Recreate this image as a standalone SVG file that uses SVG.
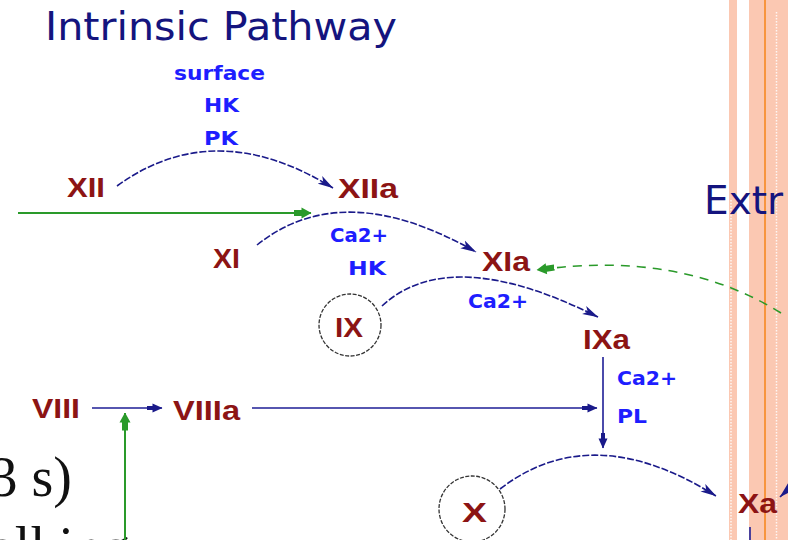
<svg xmlns="http://www.w3.org/2000/svg" width="788" height="540" viewBox="0 0 788 540">
<style>
.ttl{font-family:"DejaVu Sans","Liberation Sans",sans-serif;font-size:39px;fill:#14147e}
.lbl{font-family:"Liberation Sans","DejaVu Sans",sans-serif;font-size:28px;font-weight:bold;fill:#8c1414}
.cof{font-family:"DejaVu Sans","Liberation Sans",sans-serif;font-size:19px;font-weight:bold;fill:#1e1eff}
.ser{font-family:"Liberation Serif","DejaVu Serif",serif;font-size:56px;fill:#111}
.arc{fill:none;stroke:#1a1a8a;stroke-width:1.6;stroke-dasharray:7 2}
.ln{fill:none;stroke:#1e1e96;stroke-width:1.6}
.gr{fill:none;stroke:#2a9a2a;stroke-width:2}
.grd{fill:none;stroke:#2a9a2a;stroke-width:1.6;stroke-dasharray:9 7}
.ring{fill:none;stroke:#333;stroke-width:1.3;stroke-dasharray:4 1.5}
.strip{fill:#fbc8b2}
.dot{stroke:#fff;stroke-width:1.5;stroke-dasharray:1.5 1.5;opacity:.85}
</style>
<defs>
<marker id="ah" viewBox="0 0 16 10" refX="15.5" refY="5" markerWidth="16" markerHeight="10" markerUnits="userSpaceOnUse" orient="auto"><path d="M0,0.5 L16,5 L0,9.5 L4,5 Z" fill="#1a1a8a"/></marker>
<marker id="ahs" viewBox="0 0 16 10" refX="15.5" refY="5" markerWidth="16" markerHeight="10" markerUnits="userSpaceOnUse" orient="auto"><path d="M0,3 L6,3 L6,0.5 L16,5 L6,9.5 L6,7 L0,7 Z" fill="#1a1a8a"/></marker>
<marker id="ahg" viewBox="0 0 18 12" refX="17.5" refY="6" markerWidth="18" markerHeight="12" markerUnits="userSpaceOnUse" orient="auto"><path d="M0,3 L8,3 L8,0.5 L18,6 L8,11.5 L8,9 L0,9 Z" fill="#2a9a2a"/></marker>
</defs>
<rect width="788" height="540" fill="#fff"/>
<g id="background-strips">
<rect class="strip" x="729" y="0" width="8" height="540"/>
<rect class="strip" x="749" y="0" width="39" height="540"/>
<rect x="764" y="0" width="2" height="540" fill="#f7953f"/>
<line class="dot" x1="776.5" y1="12" x2="776.5" y2="540"/>
<line class="dot" x1="731" y1="200" x2="731" y2="540"/>
</g>
<g id="page-text">
<text class="ttl" x="45" y="40" textLength="352" lengthAdjust="spacingAndGlyphs">Intrinsic Pathway</text>
<text class="ttl" x="704" y="214" font-size="40">Extr</text>
<text class="ser" x="72" y="496" text-anchor="end">3 s)</text>
<text class="ser" x="-10" y="566">alking</text>
</g>
<g id="cofactors">
<text class="cof" x="174" y="80" textLength="91" lengthAdjust="spacingAndGlyphs" font-size="20">surface</text>
<text class="cof" x="204" y="112" textLength="35" lengthAdjust="spacingAndGlyphs">HK</text>
<text class="cof" x="204" y="145" textLength="34" lengthAdjust="spacingAndGlyphs">PK</text>
<text class="cof" x="330" y="242" textLength="58" lengthAdjust="spacingAndGlyphs">Ca2+</text>
<text class="cof" x="348" y="275" textLength="38" lengthAdjust="spacingAndGlyphs">HK</text>
<text class="cof" x="468" y="308" textLength="60" lengthAdjust="spacingAndGlyphs">Ca2+</text>
<text class="cof" x="617" y="385" textLength="60" lengthAdjust="spacingAndGlyphs">Ca2+</text>
<text class="cof" x="617" y="423" textLength="30" lengthAdjust="spacingAndGlyphs">PL</text>
</g>
<g id="connectors">
<path class="arc" d="M117,186 Q215,115 333,188" marker-end="url(#ah)"/>
<line class="gr" x1="18" y1="213" x2="311" y2="213" marker-end="url(#ahg)"/>
<path class="arc" d="M257,245 Q343,176 476,252" marker-end="url(#ah)"/>
<path class="grd" d="M781,313 Q680,250 537,270" marker-end="url(#ahg)"/>
<path class="arc" d="M382,306 Q450,243 598,317" marker-end="url(#ah)"/>
<line class="ln" x1="603" y1="357" x2="603" y2="448" marker-end="url(#ahs)"/>
<line class="ln" x1="92" y1="408" x2="162" y2="408" marker-end="url(#ahs)"/>
<line class="ln" x1="252" y1="408" x2="597" y2="408" marker-end="url(#ahs)"/>
<line class="gr" x1="125" y1="545" x2="125" y2="413" marker-end="url(#ahg)"/>
<path class="arc" d="M500,489 Q592,418 716,496" marker-end="url(#ah)"/>
<line class="ln" x1="800" y1="478" x2="780" y2="497" marker-end="url(#ah)"/>
<line class="ln" x1="750" y1="527" x2="750" y2="545"/>
</g>
<g id="n-XII"><text class="lbl" x="67" y="197" textLength="38" lengthAdjust="spacingAndGlyphs">XII</text></g>
<g id="n-XIIa"><text class="lbl" x="338" y="198" textLength="60" lengthAdjust="spacingAndGlyphs">XIIa</text></g>
<g id="n-XI"><text class="lbl" x="213" y="268" textLength="27" lengthAdjust="spacingAndGlyphs">XI</text></g>
<g id="n-XIa"><text class="lbl" x="482" y="271" textLength="48" lengthAdjust="spacingAndGlyphs">XIa</text></g>
<g id="n-IX"><circle class="ring" cx="350" cy="325" r="31"/><text class="lbl" x="335" y="337" textLength="28" lengthAdjust="spacingAndGlyphs">IX</text></g>
<g id="n-IXa"><text class="lbl" x="583" y="349" textLength="47" lengthAdjust="spacingAndGlyphs">IXa</text></g>
<g id="n-VIII"><text class="lbl" x="32" y="418" textLength="48" lengthAdjust="spacingAndGlyphs">VIII</text></g>
<g id="n-VIIIa"><text class="lbl" x="173" y="420" textLength="67" lengthAdjust="spacingAndGlyphs">VIIIa</text></g>
<g id="n-X"><circle class="ring" cx="472" cy="509" r="33"/><text class="lbl" x="462" y="522" textLength="25" lengthAdjust="spacingAndGlyphs">X</text></g>
<g id="n-Xa"><text class="lbl" x="738" y="513" textLength="39" lengthAdjust="spacingAndGlyphs">Xa</text></g>
</svg>
